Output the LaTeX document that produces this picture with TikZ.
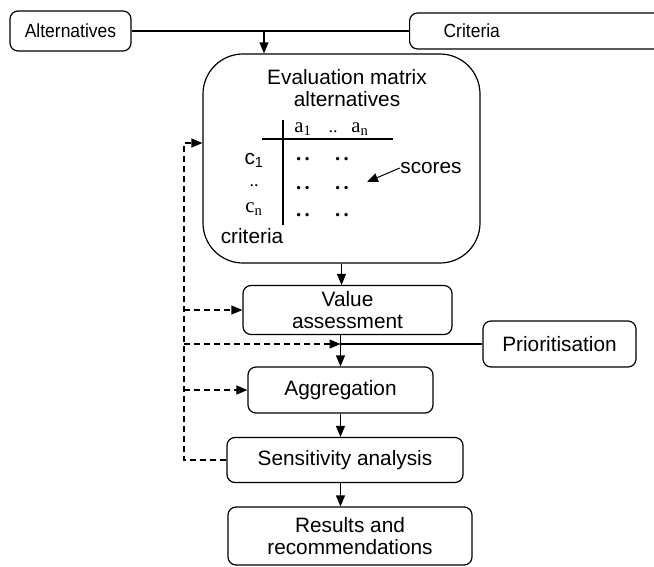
\documentclass[tikz,border=0pt]{standalone}
\usepackage{fontspec}
\setmainfont{Liberation Sans}
\newfontfamily\narrow[FakeStretch=0.92]{Liberation Sans}
\newfontfamily\serif{Liberation Serif}
\usetikzlibrary{arrows.meta}

\begin{document}
\begin{tikzpicture}[x=1pt,y=-1pt,line width=1.2pt,
  box/.style={draw,rounded corners=8pt,inner sep=0pt,align=center,
    font=\fontsize{20.8}{22}\selectfont},
  inbox/.style={box,font=\narrow\fontsize{19}{22}\selectfont},
  txt/.style={inner sep=0pt,align=center,font=\fontsize{20.8}{22}\selectfont},
  cell/.style={inner sep=0pt,anchor=base,font=\serif\fontsize{20.8}{22}\selectfont},
  arr/.style={-{Triangle[length=11pt,width=9pt]}},
  fb/.style={arr,dash pattern=on 6pt off 4pt}]
\useasboundingbox (0,0) rectangle (654,566);
% inputs:
\node[inbox,minimum width=121pt,minimum height=40pt] (alt) at (70.5,31) {Alternatives};
\node[inbox,anchor=west,minimum height=36pt,text width=200pt,align=left,inner xsep=34pt] (crit) at (409,31) {Criteria};
\coordinate (in) at (264,31);
\draw (alt.east) -- (crit.west);
% evaluation matrix:
\node[box,rounded corners=40pt,minimum width=277pt,minimum height=209pt] (eval) at (341.5,158.5) {};
\draw[arr] (in) -- (in |- eval.north);
\node[txt] (evaltitle) at (347,88) {Evaluation matrix\\alternatives};
\draw (283,120) -- (283,225);
\draw (262,139) -- (393,139);
\node[cell] (a1) at (303,132) {a\textsubscript{1}};
\node[cell,font=\serif\fontsize{18}{20}\selectfont] (adots) at (333,132) {..};
\node[cell] (an) at (360,132) {a\textsubscript{n}};
\node[cell,font=\fontsize{20.8}{22}\selectfont] (c1) at (254,164) {c\textsubscript{1}};
\node[cell,font=\serif\fontsize{18}{20}\selectfont] (cdots) at (254,186) {..};
\node[cell] (cn) at (254,212) {c\textsubscript{n}};
\foreach \x in {303,342}
  \foreach \y in {160,189,216}
    \node[cell,font=\serif\bfseries\fontsize{20.8}{22}\selectfont] at (\x,\y) {.\,.};
\node[txt] (scores) at (431,168) {scores};
\coordinate (scoretip) at (367,182);
\draw[arr,line width=1pt] (scores.west) -- (scoretip);
\node[txt] (crittext) at (252,236) {criteria};
% steps:
\node[box,minimum width=209pt,minimum height=49pt] (val) at (347.5,310) {Value\\assessment};
\node[box,minimum width=185pt,minimum height=46pt] (agg) at (340.5,390) {Aggregation};
\node[box,minimum width=236pt,minimum height=45pt] (sens) at (345,460) {Sensitivity analysis};
\node[box,minimum width=244pt,minimum height=58pt] (res) at (350,536) {Results and\\recommendations};
\node[box,minimum width=153pt,minimum height=46pt] (prio) at (559.5,344) {Prioritisation};
\coordinate (pjoin) at (agg.north |- prio.west);
\draw[arr] (eval.south) -- (eval.south |- val.north);
\draw[arr] (agg.north |- val.south) -- (agg.north);
\draw (prio.west) -- (pjoin);
\draw[arr] (agg.south) -- (agg.south |- sens.north);
\draw[arr] (agg.south |- sens.south) -- (agg.south |- res.north);
% feedback:
\coordinate (fbtop) at (184,143);
\draw[fb] (sens.west) -| (fbtop) -- (fbtop -| eval.west);
\draw[fb] (fbtop |- val.west) -- (val.west);
\draw[fb] (fbtop |- pjoin) -- (pjoin);
\draw[fb] (fbtop |- agg.west) -- (agg.west);
\end{tikzpicture}
\end{document}
